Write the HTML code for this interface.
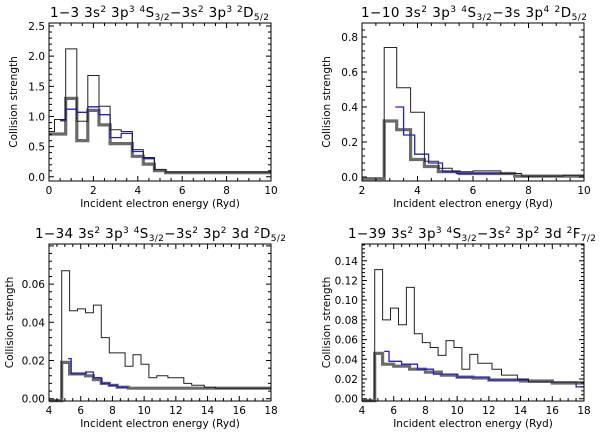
<!DOCTYPE html>
<html><head><meta charset="utf-8"><style>
html,body{margin:0;padding:0;background:#fff}
svg{display:block;font-family:"DejaVu Sans","Liberation Sans",sans-serif}
</style></head><body>
<svg id="c" width="600" height="436" viewBox="0 0 600 436"></svg>
<script>
// ---- data: bin edges and step values per panel ----
const p1BlackEdges=[0,0.25,0.75,1.25,1.75,2.25,2.75,3.25,3.75,4.25,4.75,5.25,10];
const p1BlackVals=[0.75,0.95,2.12,0.92,1.68,1.17,0.78,0.75,0.45,0.32,0.12,0.08];
const p1GrayEdges=[0,0.75,1.25,1.75,2.25,2.75,3.75,4.25,4.75,5.25,10];
const p1GrayVals=[0.71,1.3,0.6,1.1,0.86,0.55,0.34,0.21,0.1,0.07];
const p1BlueEdges=[0.5,0.75,1.25,1.75,2.25,2.75,3.25,3.75,4.25,4.75,5.25];
const p1BlueVals=[0.93,1.12,1.07,1.16,1.03,0.65,0.72,0.42,0.3,0.12];

const p2BlackEdges=[2.8,3.25,3.75,4.25,4.75,5.25,6,7,7.75,9.25,10];
const p2BlackVals=[0.74,0.51,0.37,0.09,0.05,0.03,0.035,0.02,0.005,0.01];
const p2GrayEdges=[2,2.8,3.25,3.75,4.25,4.75,5.5,7.5,10];
const p2GrayVals=[-0.01,0.32,0.27,0.1,0.06,0.03,0.02,0.005];
const p2BlueEdges=[3.2,3.5,3.9,4.4,4.9,5.4,7.4];
const p2BlueVals=[0.4,0.24,0.13,0.08,0.03,0.02];

const p3BlackEdges=[4.8,5.3,5.8,6.3,6.8,7.3,7.8,8.8,9.3,9.8,10.3,10.8,11.5,12.5,13,13.8,14.5,18];
const p3BlackVals=[0.067,0.046,0.047,0.045,0.049,0.032,0.024,0.017,0.023,0.018,0.011,0.012,0.011,0.008,0.007,0.006,0.0055];
const p3GrayEdges=[4,4.8,5.3,6.3,6.8,7.3,7.8,8.3,9,18];
const p3GrayVals=[-0.001,0.019,0.013,0.012,0.01,0.008,0.007,0.006,0.0055];
const p3BlueEdges=[5.2,5.4,6.3,6.8,7.3,7.8,8.3,9];
const p3BlueVals=[0.021,0.013,0.014,0.011,0.008,0.007,0.006];

const p4BlackEdges=[4.8,5.3,5.8,6.3,6.8,7.3,7.8,8.3,8.8,9.3,9.8,10.3,10.8,11.3,12.2,12.8,13.8,14.5,18];
const p4BlackVals=[0.131,0.08,0.092,0.075,0.113,0.066,0.057,0.052,0.044,0.059,0.052,0.03,0.045,0.036,0.03,0.024,0.02,0.017];
const p4GrayEdges=[4,4.8,5.3,6,7,8,9,10,11,12,14,16,18];
const p4GrayVals=[-0.002,0.046,0.035,0.033,0.03,0.027,0.024,0.022,0.021,0.019,0.018,0.016];
const p4BlueEdges=[5.4,5.7,6.5,7.5,8.5,10,12,14.5,17.5,18];
const p4BlueVals=[0.048,0.038,0.035,0.03,0.025,0.022,0.019,0.017,0.012];

const p1XTicks=[0,2,4,6,8,10];
const p1YTicks=[0,0.5,1,1.5,2,2.5];
const p2XTicks=[2,4,6,8,10];
const p2YTicks=[0,0.2,0.4,0.6,0.8];
const p3XTicks=[4,6,8,10,12,14,16,18];
const p3YTicks=[0,0.02,0.04,0.06];
const p4XTicks=[4,6,8,10,12,14,16,18];
const p4YTicks=[0,0.02,0.04,0.06,0.08,0.1,0.12,0.14];

const NS="http://www.w3.org/2000/svg";
const svg=document.getElementById('c');
function mk(tag,attrs,parent){const e=document.createElementNS(NS,tag);for(const k in attrs)e.setAttribute(k,attrs[k]);(parent||svg).appendChild(e);return e;}

function panel(o){
  const g=mk('g',{});
  
  
  const X=v=>o.L+(v-o.x0)/(o.x1-o.x0)*(o.R-o.L);
  const Y=v=>o.B-(v-o.y0)/(o.y1-o.y0)*(o.B-o.T);
  function step(edges,vals,color,w,nm,start){
    let d='';
    if(start!==undefined) d='M'+X(edges[0]).toFixed(1)+','+Y(start).toFixed(1);
    for(let i=0;i<vals.length;i++){
      const xa=X(edges[i]),xb=X(edges[i+1]),y=Y(vals[i]);
      d+=(d===''?'M':'L')+xa.toFixed(1)+','+y.toFixed(1)+'L'+xb.toFixed(1)+','+y.toFixed(1);
    }
    const p=mk('path',{d:d,fill:'none',stroke:color,'stroke-width':w},g);
    
    
  }
  step(o.gE,o.gV,'#6b6b6b',3.2,'series-gray');
  step(o.bE,o.bV,'#2222cc',1.3,'series-blue');
  step(o.kE,o.kV,'#222',1,'series-black',o.kS);
  const fr=mk('rect',{x:o.L,y:o.T,width:o.R-o.L,height:o.B-o.T,fill:'none',stroke:'#000','stroke-width':1},g);
  
  
  let d='';
  const xs=o.xt[1]-o.xt[0], ys=o.yt[1]-o.yt[0];
  for(let v=o.xt[0];v<=o.x1+1e-9;v+=xs/4){
    const x=X(v),maj=Math.abs((v-o.xt[0])/xs-Math.round((v-o.xt[0])/xs))<1e-6,l=maj?5:3;
    d+='M'+x+','+o.B+'v'+(-l)+'M'+x+','+o.T+'v'+l;
  }
  for(let v=o.yt[0];v<=o.y1+1e-9;v+=ys/5){
    const y=Y(v),maj=Math.abs((v-o.yt[0])/ys-Math.round((v-o.yt[0])/ys))<1e-6,l=maj?5:3;
    d+='M'+o.L+','+y+'h'+l+'M'+o.R+','+y+'h'+(-l);
  }
  mk('path',{d:d,stroke:'#000','stroke-width':1,fill:'none'},g);
  o.xt.forEach(v=>{
    const t=mk('text',{x:X(v),y:o.B+13,'text-anchor':'middle','font-size':10.5},g);
    t.textContent=String(v);
    
    
  });
  o.yt.forEach(v=>{
    const t=mk('text',{x:o.L-4,y:Y(v)+4,'text-anchor':'end','font-size':10.5},g);
    t.textContent=v.toFixed(o.yd);
    
    
  });
  const xl=mk('text',{x:(o.L+o.R)/2,y:o.B+26,'text-anchor':'middle','font-size':10.5},g);
  xl.textContent='Incident electron energy (Ryd)';
  
  
  const yl=mk('text',{x:0,y:0,'text-anchor':'middle','font-size':10.5,transform:'translate('+o.ylx+','+((o.T+o.B)/2)+') rotate(-90)'},g);
  yl.textContent='Collision strength';
  
  
  const tt=mk('text',{x:o.tx,y:o.ty,'font-size':13.5,textLength:o.tw,lengthAdjust:'spacing'},g);
  
  
  let prev=0;
  o.title.forEach(([s,k])=>{
    const ts=mk('tspan',{},tt);
    ts.textContent=s;
    let want=0;
    if(k==='u'){ts.setAttribute('font-size','9');want=-5;}
    if(k==='d'){ts.setAttribute('font-size','9');want=3;}
    ts.setAttribute('dy',want-prev); prev=want;
  });
}

panel({name:'panel-1-3',L:49,R:271,T:23,B:181,x0:0,x1:10,y0:-0.07,y1:2.55,xt:p1XTicks,yt:p1YTicks,yd:1,ylx:17,tx:50,ty:17,tw:219,
  kE:p1BlackEdges,kV:p1BlackVals,gE:p1GrayEdges,gV:p1GrayVals,bE:p1BlueEdges,bV:p1BlueVals,
  title:[['1−3  3s'],['2','u'],['  3p'],['3','u'],['  '],['4','u'],['S'],['3/2','d'],['−3s'],['2','u'],['  3p'],['3','u'],['  '],['2','u'],['D'],['5/2','d']]});
panel({name:'panel-1-10',L:362,R:584,T:23,B:181,x0:2,x1:10,y0:-0.023,y1:0.88,xt:p2XTicks,yt:p2YTicks,yd:1,ylx:330,tx:361,ty:17,tw:226,kS:0,
  kE:p2BlackEdges,kV:p2BlackVals,gE:p2GrayEdges,gV:p2GrayVals,bE:p2BlueEdges,bV:p2BlueVals,
  title:[['1−10  3s'],['2','u'],['  3p'],['3','u'],['  '],['4','u'],['S'],['3/2','d'],['−3s  3p'],['4','u'],['  '],['2','u'],['D'],['5/2','d']]});
panel({name:'panel-1-34',L:49,R:271,T:244,B:401,x0:4,x1:18,y0:-0.0012,y1:0.081,xt:p3XTicks,yt:p3YTicks,yd:2,ylx:13,tx:35,ty:238,tw:251,kS:0,
  kE:p3BlackEdges,kV:p3BlackVals,gE:p3GrayEdges,gV:p3GrayVals,bE:p3BlueEdges,bV:p3BlueVals,
  title:[['1−34  3s'],['2','u'],['  3p'],['3','u'],['  '],['4','u'],['S'],['3/2','d'],['−3s'],['2','u'],['  3p'],['2','u'],['  3d  '],['2','u'],['D'],['5/2','d']]});
panel({name:'panel-1-39',L:362,R:584,T:244,B:401,x0:4,x1:18,y0:-0.0023,y1:0.157,xt:p4XTicks,yt:p4YTicks,yd:2,ylx:330,tx:348,ty:238,tw:248,kS:0,
  kE:p4BlackEdges,kV:p4BlackVals,gE:p4GrayEdges,gV:p4GrayVals,bE:p4BlueEdges,bV:p4BlueVals,
  title:[['1−39  3s'],['2','u'],['  3p'],['3','u'],['  '],['4','u'],['S'],['3/2','d'],['−3s'],['2','u'],['  3p'],['2','u'],['  3d  '],['2','u'],['F'],['7/2','d']]});
</script>
</body></html>
